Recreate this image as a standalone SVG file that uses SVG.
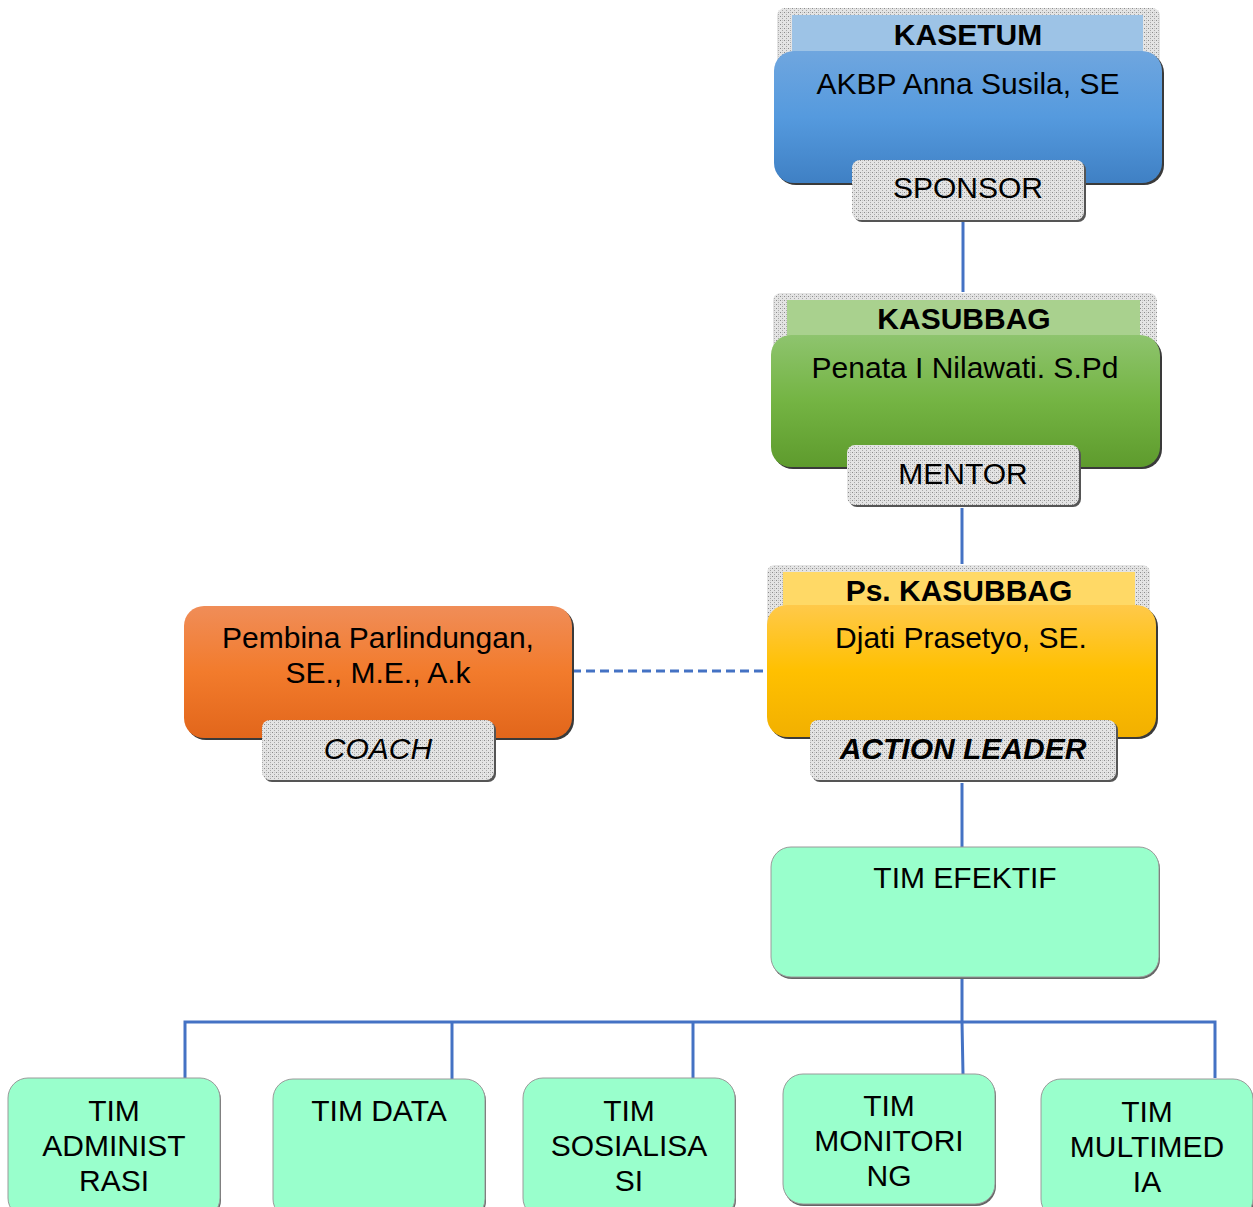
<svg xmlns="http://www.w3.org/2000/svg" width="1253" height="1207" viewBox="0 0 1253 1207">
<style>
.t{font-family:"Liberation Sans",Arial,sans-serif;font-size:30px;fill:#000;text-anchor:middle}
.b{font-weight:bold}
.i{font-style:italic}
.conn{stroke:#4472c4;stroke-width:3;fill:none}
.team{fill:#99ffcc;stroke:#9a9a9a;stroke-width:1}
.sh{fill:#3a3a3a}
</style>
<defs>
<pattern id="dots" width="4" height="4" patternUnits="userSpaceOnUse">
<rect width="4" height="4" fill="#e4e4e4"/>
<rect width="1" height="1" fill="#8c8c8c"/>
<rect x="2" y="2" width="1" height="1" fill="#a8a8a8"/>
<rect x="2" y="0" width="1" height="1" fill="#c4c4c4"/>
</pattern>
<linearGradient id="gBlue" x1="0" y1="0" x2="0" y2="1"><stop offset="0" stop-color="#6fa6df"/><stop offset="0.5" stop-color="#559ade"/><stop offset="1" stop-color="#3f80c4"/></linearGradient>
<linearGradient id="gGreen" x1="0" y1="0" x2="0" y2="1"><stop offset="0" stop-color="#8ec46e"/><stop offset="0.5" stop-color="#74b443"/><stop offset="1" stop-color="#5e9b2d"/></linearGradient>
<linearGradient id="gOrange" x1="0" y1="0" x2="0" y2="1"><stop offset="0" stop-color="#f08d58"/><stop offset="0.5" stop-color="#f27b2c"/><stop offset="1" stop-color="#e2661b"/></linearGradient>
<linearGradient id="gYellow" x1="0" y1="0" x2="0" y2="1"><stop offset="0" stop-color="#ffc94a"/><stop offset="0.5" stop-color="#ffc000"/><stop offset="1" stop-color="#f2b000"/></linearGradient>
</defs>

<g id="connectors">
<line class="conn" x1="963" y1="222" x2="963" y2="292"/>
<line class="conn" x1="962" y1="508" x2="962" y2="564"/>
<line class="conn" x1="572" y1="671" x2="767" y2="671" stroke-dasharray="9,5"/>
<line class="conn" x1="962" y1="783" x2="962" y2="848"/>
<polyline class="conn" points="962,977 962,1022 963,1074"/>
<polyline class="conn" points="185,1078 185,1022 1215,1022 1215,1078"/>
<line class="conn" x1="452" y1="1022" x2="452" y2="1079"/>
<line class="conn" x1="693" y1="1022" x2="693" y2="1079"/>
</g>

<g id="kasetum">
<rect x="777" y="8" width="383" height="80" rx="8" fill="url(#dots)"/>
<rect x="792" y="15" width="351" height="38" fill="#9dc3e6"/>
<text class="t b" x="968" y="45">KASETUM</text>
<rect x="776" y="53" width="388" height="132" rx="20" class="sh"/>
<rect x="774" y="51" width="388" height="132" rx="20" fill="url(#gBlue)"/>
<text class="t" x="968" y="94">AKBP Anna Susila, SE</text>
<rect x="854" y="162" width="232" height="60" rx="8" fill="#555"/>
<rect x="852" y="160" width="232" height="60" rx="8" fill="url(#dots)"/>
<text class="t" x="968" y="198">SPONSOR</text>
</g>

<g id="kasubbag">
<rect x="773" y="293" width="384" height="80" rx="8" fill="url(#dots)"/>
<rect x="787" y="300" width="353" height="38" fill="#a9d18e"/>
<text class="t b" x="964" y="329">KASUBBAG</text>
<rect x="773" y="337" width="389" height="132" rx="20" class="sh"/>
<rect x="771" y="335" width="389" height="132" rx="20" fill="url(#gGreen)"/>
<text class="t" x="965" y="378">Penata I Nilawati. S.Pd</text>
<rect x="849" y="447" width="232" height="60" rx="8" fill="#555"/>
<rect x="847" y="445" width="232" height="60" rx="8" fill="url(#dots)"/>
<text class="t" x="963" y="484">MENTOR</text>
</g>

<g id="ps-kasubbag">
<rect x="767" y="565" width="383" height="80" rx="8" fill="url(#dots)"/>
<rect x="783" y="572" width="352" height="38" fill="#ffd966"/>
<text class="t b" x="959" y="601">Ps. KASUBBAG</text>
<rect x="769" y="607" width="389" height="132" rx="20" class="sh"/>
<rect x="767" y="605" width="389" height="132" rx="20" fill="url(#gYellow)"/>
<text class="t" x="961" y="648">Djati Prasetyo, SE.</text>
<rect x="812" y="722" width="306" height="60" rx="8" fill="#555"/>
<rect x="810" y="720" width="306" height="60" rx="8" fill="url(#dots)"/>
<text class="t b i" x="963" y="759">ACTION LEADER</text>
</g>

<g id="coach">
<rect x="186" y="608" width="388" height="132" rx="20" class="sh"/>
<rect x="184" y="606" width="388" height="132" rx="20" fill="url(#gOrange)"/>
<text class="t" x="378" y="648">Pembina Parlindungan,</text>
<text class="t" x="378" y="683">SE., M.E., A.k</text>
<rect x="264" y="722" width="232" height="60" rx="8" fill="#555"/>
<rect x="262" y="720" width="232" height="60" rx="8" fill="url(#dots)"/>
<text class="t i" x="378" y="759">COACH</text>
</g>

<g id="tim-efektif">
<rect x="772" y="849" width="388" height="130" rx="20" fill="#666"/>
<rect class="team" x="771" y="847" width="388" height="130" rx="20"/>
<text class="t" x="965" y="888">TIM EFEKTIF</text>
</g>

<g id="tim-administrasi">
<rect x="9" y="1080" width="212" height="140" rx="20" fill="#666"/>
<rect class="team" x="8" y="1078" width="212" height="140" rx="20"/>
<text class="t" x="114" y="1121">TIM</text>
<text class="t" x="114" y="1156">ADMINIST</text>
<text class="t" x="114" y="1191">RASI</text>
</g>

<g id="tim-data">
<rect x="274" y="1081" width="212" height="140" rx="20" fill="#666"/>
<rect class="team" x="273" y="1079" width="212" height="140" rx="20"/>
<text class="t" x="379" y="1121">TIM DATA</text>
</g>

<g id="tim-sosialisasi">
<rect x="524" y="1080" width="212" height="140" rx="20" fill="#666"/>
<rect class="team" x="523" y="1078" width="212" height="140" rx="20"/>
<text class="t" x="629" y="1121">TIM</text>
<text class="t" x="629" y="1156">SOSIALISA</text>
<text class="t" x="629" y="1191">SI</text>
</g>

<g id="tim-monitoring">
<rect x="784" y="1076" width="212" height="130" rx="20" fill="#666"/>
<rect class="team" x="783" y="1074" width="212" height="130" rx="20"/>
<text class="t" x="889" y="1116">TIM</text>
<text class="t" x="889" y="1151">MONITORI</text>
<text class="t" x="889" y="1186">NG</text>
</g>

<g id="tim-multimedia">
<rect x="1042" y="1081" width="212" height="140" rx="20" fill="#666"/>
<rect class="team" x="1041" y="1079" width="212" height="140" rx="20"/>
<text class="t" x="1147" y="1122">TIM</text>
<text class="t" x="1147" y="1157">MULTIMED</text>
<text class="t" x="1147" y="1192">IA</text>
</g>
</svg>
